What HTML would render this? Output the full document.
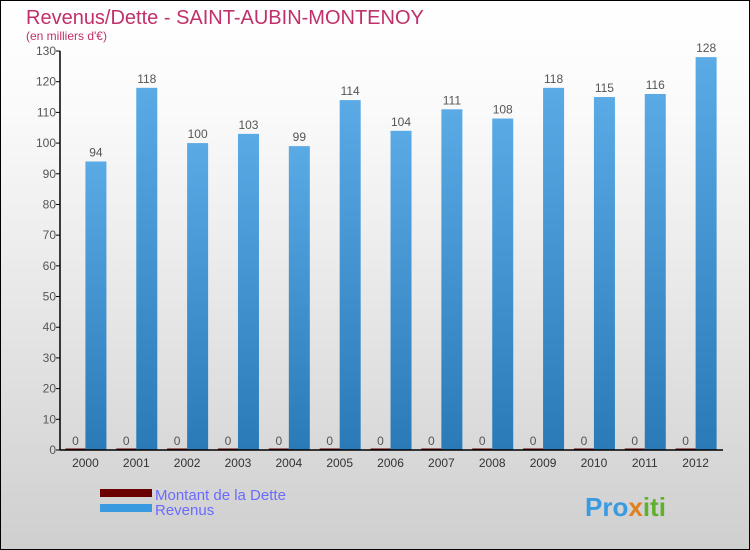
<!DOCTYPE html>
<html><head><meta charset="utf-8"><style>
body{margin:0}
#c{width:748px;height:548px;border:1px solid #000;background:linear-gradient(#fff,#fafafa 20%,#cfcfcf);position:relative;font-family:"Liberation Sans",sans-serif;overflow:hidden}
</style></head><body>
<div id="c">
<svg id="s" width="748" height="548" xmlns="http://www.w3.org/2000/svg">
<defs>
<linearGradient id="gb" x1="0" y1="0" x2="0" y2="1"><stop offset="0" stop-color="#5aaae6"/><stop offset="1" stop-color="#2a7ab8"/></linearGradient>
</defs>
<text x="25" y="23" font-size="20" fill="#c0306a">Revenus/Dette - SAINT-AUBIN-MONTENOY</text>
<text x="25" y="39" font-size="12" fill="#c0306a">(en milliers d'€)</text>
<g id="g"></g>
<rect x="99" y="488" width="52" height="8" fill="#6b0000"/>
<rect x="99" y="503" width="52" height="8" fill="#3a9ae0"/>
<text x="154" y="499" font-size="15" fill="#6a6aff">Montant de la Dette</text>
<text x="154" y="514" font-size="15" fill="#6a6aff">Revenus</text>
<text x="584" y="515" font-size="26" font-weight="bold" fill="#3a9ae0">Pro<tspan fill="#e08020">x</tspan><tspan fill="#60b030">iti</tspan></text>
</svg></div>
<script>
const years=["2000","2001","2002","2003","2004","2005","2006","2007","2008","2009","2010","2011","2012"];
const dette=[0,0,0,0,0,0,0,0,0,0,0,0,0];
const revenus=[94,118,100,103,99,114,104,111,108,118,115,116,128];
const ticks=[0,10,20,30,40,50,60,70,80,90,100,110,120,130];
const NS="http://www.w3.org/2000/svg",g=document.getElementById('g');
const x0=59,cw=50.85,y0=449,ymax=130,ph=399;
const y=v=>y0-v/ymax*ph;
const cx=i=>x0+cw*(i+0.5);
function mk(t,a,txt){const e=document.createElementNS(NS,t);for(const k in a)e.setAttribute(k,a[k]);if(txt!==undefined)e.textContent=txt;g.appendChild(e);return e;}
ticks.forEach(t=>{
 const l=mk('line',{x1:x0-4,x2:x0,y1:y(t),y2:y(t),stroke:'#000'});
 
 
 const tx=mk('text',{x:x0-4,y:y(t)+4,'font-size':12,fill:'#555','text-anchor':'end'},t);
 
 
});
years.forEach((yr,i)=>{
 const c=cx(i);
 const d=mk('rect',{x:c-20,y:y(dette[i])-1.5,width:20,height:y0-y(dette[i])+1.5,fill:'#6b0000'});
 
 
 const dl=mk('text',{x:c-10,y:y(dette[i])-5,'font-size':12,fill:'#555','text-anchor':'middle'},dette[i]);
 
 
 const r=mk('rect',{x:c,y:y(revenus[i]),width:21,height:y0-y(revenus[i]),fill:'url(#gb)'});
 
 
 const rl=mk('text',{x:c+10.5,y:y(revenus[i])-5,'font-size':12,fill:'#555','text-anchor':'middle'},revenus[i]);
 
 
 const xl=mk('text',{x:c,y:466,'font-size':12,fill:'#333','text-anchor':'middle'},yr);
 
 
});
const ya=mk('line',{x1:x0,x2:x0,y1:y(130),y2:y0,stroke:'#000','stroke-width':1.5});


const xa=mk('line',{x1:x0,x2:722,y1:y0,y2:y0,stroke:'#000','stroke-width':1.5});


</script>
</body></html>
